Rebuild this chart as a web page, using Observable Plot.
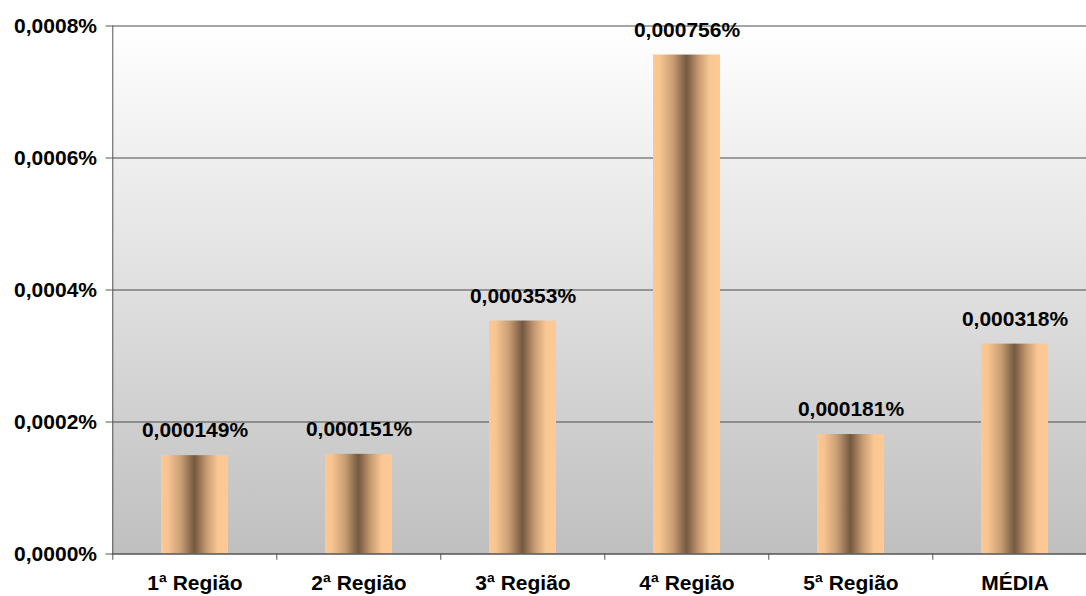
<!DOCTYPE html>
<html><head><meta charset="utf-8">
<script src="https://cdn.jsdelivr.net/npm/d3@7"></script>
<script src="https://cdn.jsdelivr.net/npm/@observablehq/plot@0.6"></script>
<style>
body{margin:0;overflow:hidden;background:#fff}
#chart{width:1098px}
#chart svg{display:block;max-width:none !important;width:1098px !important;height:596px !important}
</style>
</head><body><div id="chart"></div>
<script>
const categories = ["1ª Região","2ª Região","3ª Região","4ª Região","5ª Região","MÉDIA"];
const values = [0.000149,0.000151,0.000353,0.000756,0.000181,0.000318];
const yTicks = [0,0.0002,0.0004,0.0006,0.0008];
const gridValues = [0.0002,0.0004,0.0006,0.0008];

const data = categories.map((c,i)=>({category:c,value:values[i]}));
const comma = s => s.replace(".", ",");
const fmtAxis = d => comma(d3.format(".4f")(d)) + "%";
const fmtVal = d => comma(d3.format(".6f")(d)) + "%";

const W = 1098, H = 596, ML = 111.5, MR = 0, MT = 25.5, MB = 42.5;
const step = (W - ML - MR) / categories.length;
const font = "'Liberation Sans', Arial, sans-serif";

const plot = Plot.plot({
  width: W, height: H,
  marginLeft: ML, marginRight: MR, marginTop: MT, marginBottom: MB,
  style: {fontFamily: font, fontWeight: "bold", fontSize: "21px", color: "#000", background: "transparent", overflow: "visible"},
  x: {domain: categories, paddingInner: 0.59, paddingOuter: 0.295, label: null},
  y: {domain: [0, 0.0008], label: null},
  marks: [
    Plot.frame({fill: "url(#bgGrad)", stroke: "none"}),
    Plot.ruleY(gridValues, {stroke: "#4a4a4a", strokeWidth: 1}),
    Plot.barY(data, {x: "category", y: "value", fill: "url(#barGrad)"}),
    Plot.ruleY([0], {stroke: "#555", strokeWidth: 1.5}),
    Plot.ruleX([categories[0]], {x: d => d, dx: -step/2, y1: 0, y2: 0.0008, stroke: "#555", strokeWidth: 1}),
    Plot.ruleX(categories, {x: d => d, dx: -step/2, y1: 0, y2: -0.0000095, stroke: "#555", strokeWidth: 1}),
    Plot.text(data, {x: "category", y: "value", text: d => fmtVal(d.value), dy: -25, lineAnchor: "middle", fontSize: 21, fontWeight: "bold", fill: "#000"}),
    Plot.axisY({ticks: yTicks, tickFormat: fmtAxis, tickSize: 6, tickPadding: 9, stroke: "#555", fontSize: 21, fontWeight: "bold"}),
    Plot.axisX({tickSize: 0, tickPadding: 21, fontSize: 21, fontWeight: "bold"})
  ]
});

const svg = d3.select(plot);
const defs = svg.insert("defs", ":first-child");
const bg = defs.append("linearGradient").attr("id", "bgGrad").attr("x1", 0).attr("y1", 0).attr("x2", 0).attr("y2", 1);
bg.append("stop").attr("offset", "0%").attr("stop-color", "#ffffff");
bg.append("stop").attr("offset", "100%").attr("stop-color", "#bfbfbf");
const bar = defs.append("linearGradient").attr("id", "barGrad").attr("x1", 0).attr("y1", 0).attr("x2", 1).attr("y2", 0);
[["0%","#fcc994"],["10%","#f8c591"],["30%","#c99d73"],["50%","#745840"],["68%","#c79b71"],["85%","#fac792"],["100%","#fdca95"]]
  .forEach(([o,c]) => bar.append("stop").attr("offset", o).attr("stop-color", c));

document.getElementById("chart").appendChild(plot);
</script>
</body></html>
